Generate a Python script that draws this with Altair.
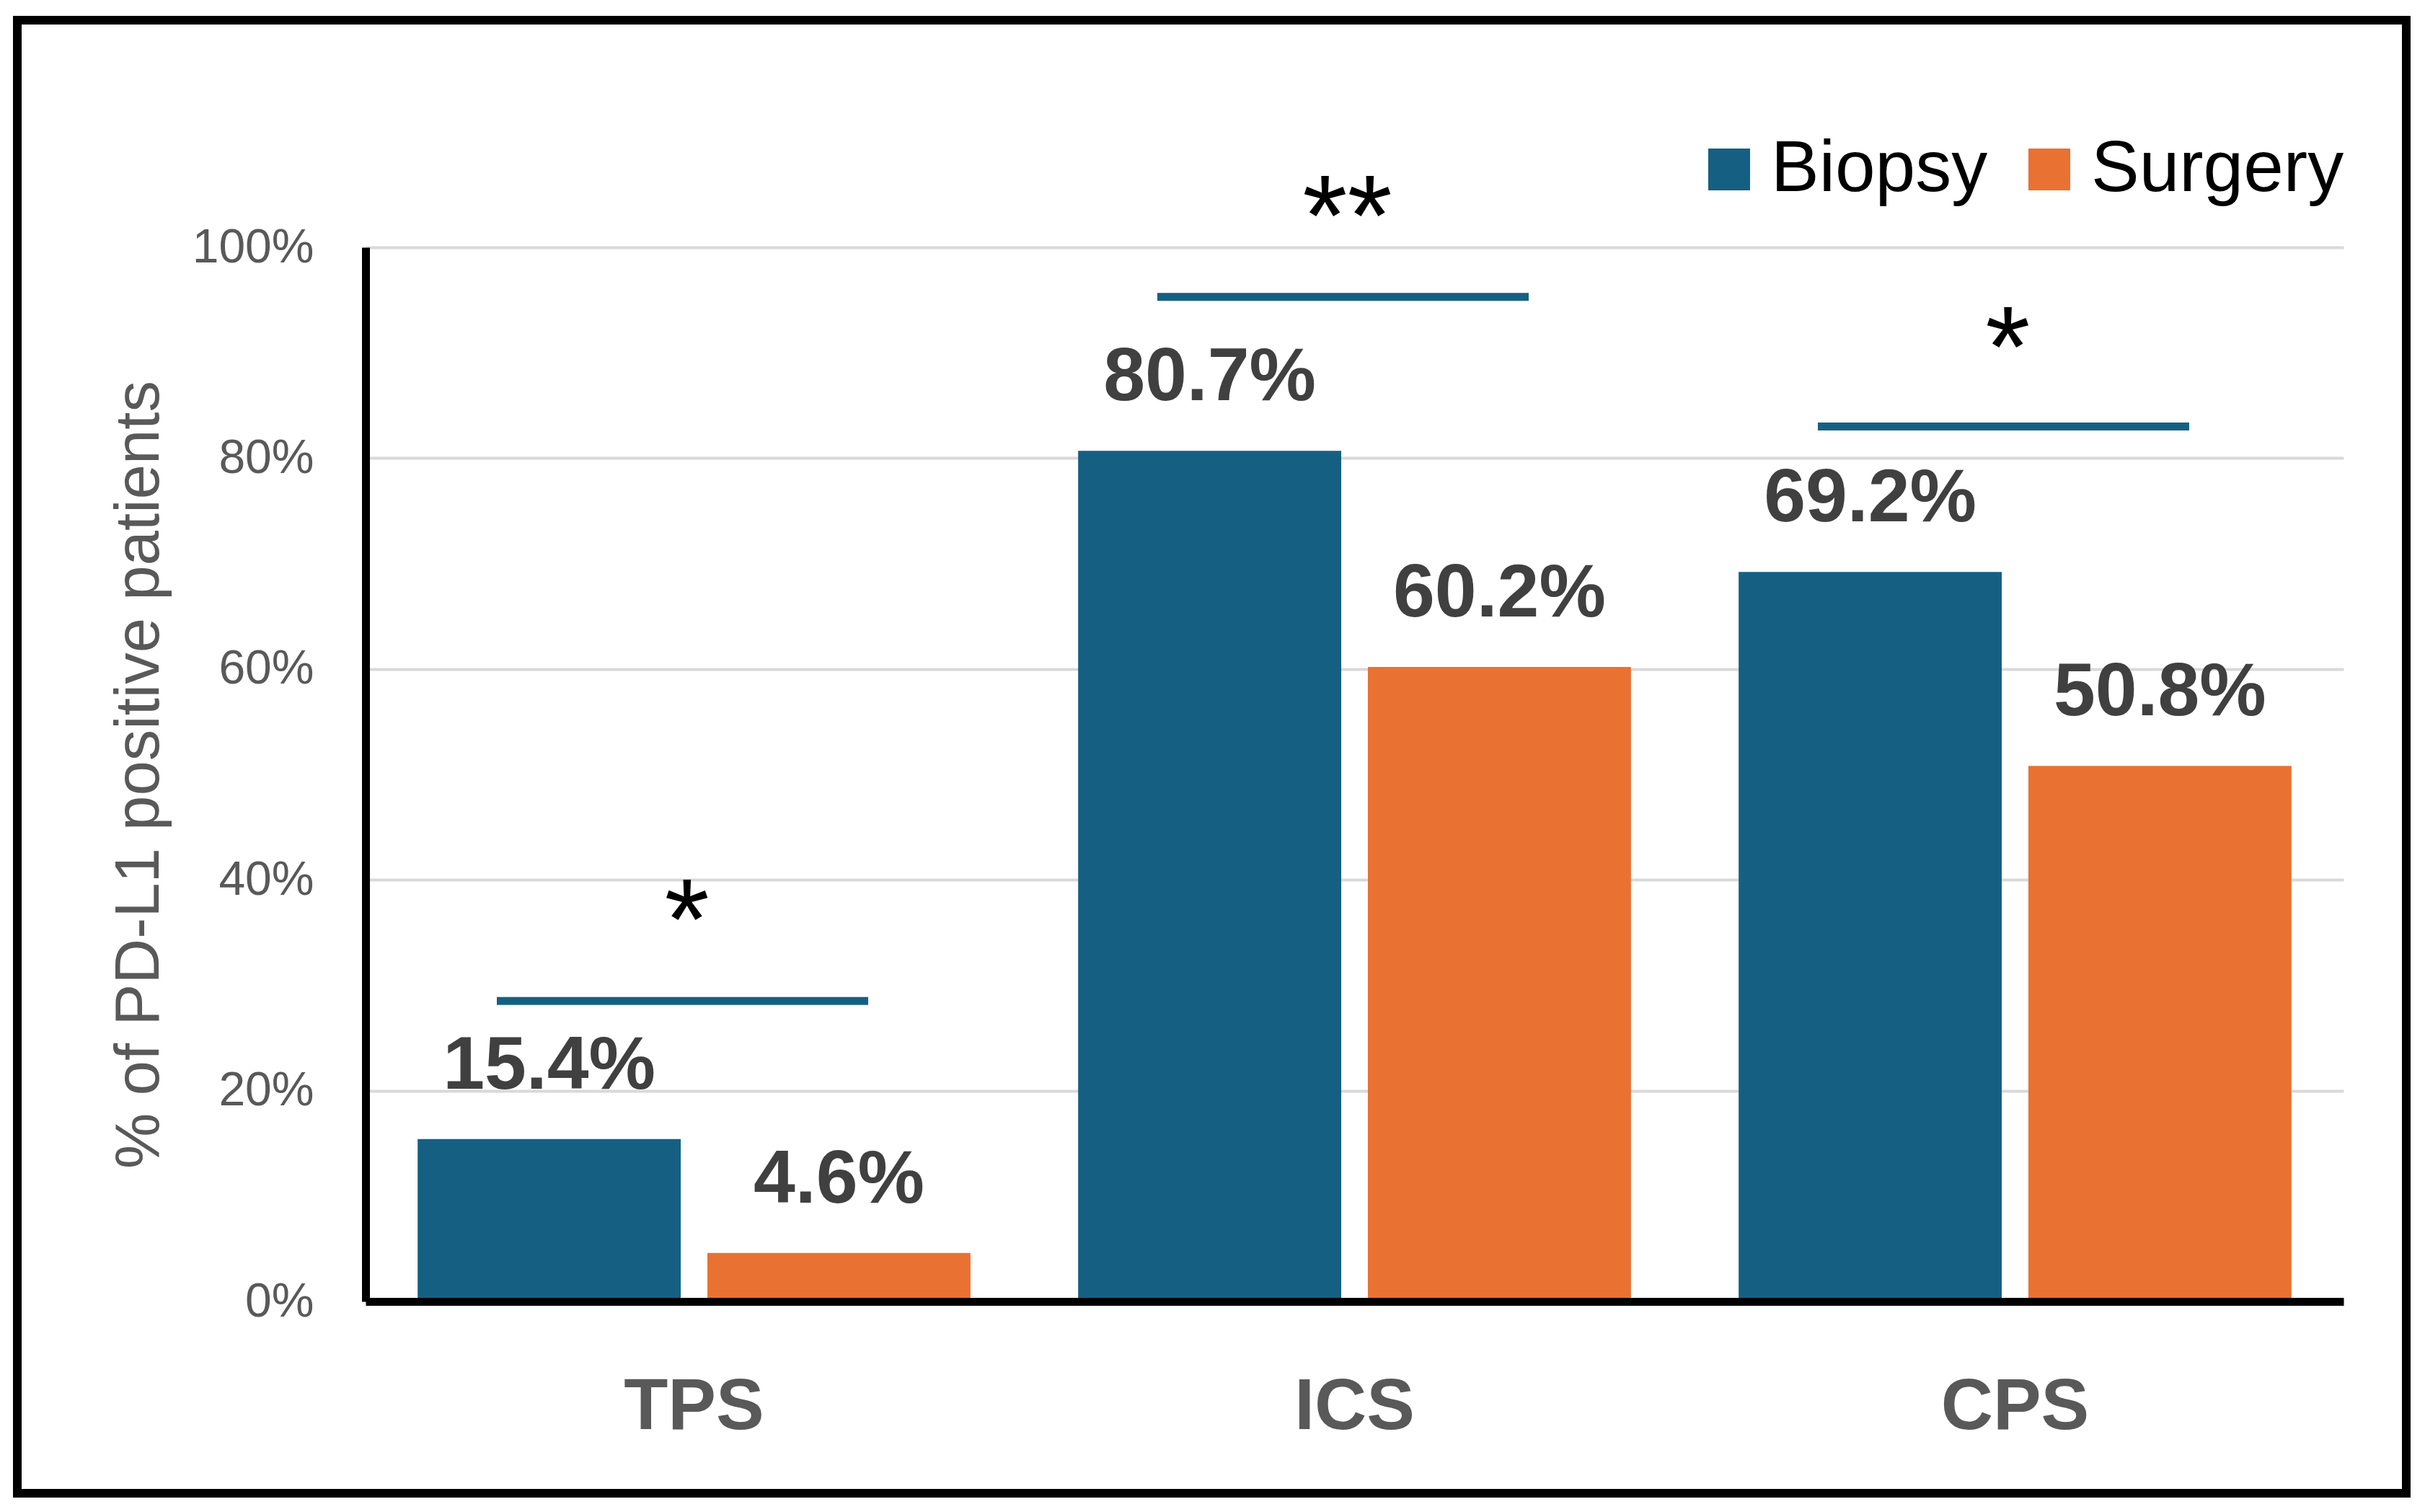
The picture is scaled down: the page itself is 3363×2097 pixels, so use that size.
import altair as alt
import pandas as pd

# ---- data ----
categories = ["TPS", "ICS", "CPS"]
groups = ["Biopsy", "Surgery"]
biopsy = [15.4, 80.7, 69.2]
surgery = [4.6, 60.2, 50.8]
sig_line_y = [28.5, 95.3, 83.0]      # height of significance bar (%)
sig_marks = ["*", "**", "*"]
sig_star_y = [38.4, 105.1, 92.7]     # visual centre of the stars (%)
y_ticks = [0, 20, 40, 60, 80, 100]
y_title = "% of PD-L1 positive patients"

BLUE = "#156082"
ORANGE = "#E97132"
FONT = "Liberation Sans"

rows = []
for c, b, s in zip(categories, biopsy, surgery):
    rows.append({"cat": c, "group": "Biopsy", "value": b, "label": f"{b:.1f}%"})
    rows.append({"cat": c, "group": "Surgery", "value": s, "label": f"{s:.1f}%"})
df = pd.DataFrame(rows)

sig = pd.DataFrame({"cat": categories, "line_y": sig_line_y,
                    "star_y": sig_star_y, "mark": sig_marks})

W, H = 2743, 1462

x_scale = alt.Scale(domain=categories, paddingInner=0.163, paddingOuter=0.0788)
y_scale = alt.Scale(domain=[0, 100])

x_axis = alt.Axis(title=None, labelFontSize=100, labelFontWeight="bold",
                  labelColor="#595959", labelFont=FONT, labelPadding=97,
                  labelLimit=1000,
                  ticks=False, tickSize=0, domainColor="black",
                  domainWidth=11, labelAngle=0, zindex=1, grid=False)
y_axis = alt.Axis(values=y_ticks, labelExpr="datum.value + '%'",
                  title=y_title,
                  grid=True, gridColor="#D9D9D9", gridWidth=4,
                  domainColor="black", domainWidth=11,
                  ticks=False, tickSize=0,
                  labelFontSize=66, labelColor="#595959", labelFont=FONT,
                  labelPadding=72, labelLimit=1000,
                  titleFontSize=87, titleColor="#595959",
                  titleFontWeight="normal", titleFont=FONT,
                  titlePadding=70, titleLimit=3000)


def X():
    return alt.X("cat:N", sort=categories, scale=x_scale, axis=x_axis)


def Y(field):
    return alt.Y(f"{field}:Q", scale=y_scale, axis=y_axis, title=y_title)


xoff = alt.XOffset("group:N", sort=groups,
                   scale=alt.Scale(domain=groups, paddingInner=0.092, paddingOuter=0))

color = alt.Color("group:N", sort=groups,
                  scale=alt.Scale(domain=groups, range=[BLUE, ORANGE]),
                  legend=alt.Legend(orient="none", legendX=1841, legendY=-158,
                                    direction="horizontal", title=None,
                                    symbolType="square", symbolSize=3364,
                                    symbolStrokeWidth=0, labelFontSize=100,
                                    labelFont=FONT, labelColor="black",
                                    labelOffset=8, columnPadding=35,
                                    labelLimit=1000, padding=0))

bars = alt.Chart(df).mark_bar().encode(x=X(), xOffset=xoff, y=Y("value"), color=color)

labels = alt.Chart(df).mark_text(
    baseline="alphabetic", dy=-70, fontSize=104, fontWeight="bold",
    color="#404040", font=FONT
).encode(
    x=X(),
    xOffset=xoff,
    y=Y("value"),
    text="label:N",
)

lines = alt.Chart(sig).mark_tick(
    orient="horizontal", size=515, thickness=11, color=BLUE, xOffset=-16, opacity=1
).encode(
    x=X(),
    y=Y("line_y"),
)

stars = alt.Chart(sig).mark_text(
    baseline="alphabetic", dy=86, dx=-10, fontSize=160, color="black", font=FONT
).encode(
    x=X(),
    y=Y("star_y"),
    text="mark:N",
)

border = alt.Chart(alt.Data(values=[{"a": 1}])).mark_rect(
    filled=False, stroke="black", strokeWidth=12
).encode(
    x=alt.value(-483), x2=alt.value(2830),
    y=alt.value(-315), y2=alt.value(1728),
)

chart = alt.layer(border, bars, labels, lines, stars).properties(
    width=W, height=H,
    padding={"left": 10, "top": 14, "right": 5, "bottom": 5},
    background="white",
).configure_view(strokeWidth=0)

chart.save("out.html", embed_options={"renderer": "svg", "actions": False})
